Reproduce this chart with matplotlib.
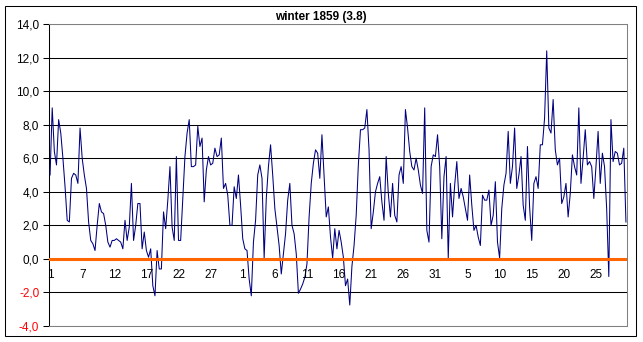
import matplotlib
matplotlib.use('Agg')
import matplotlib.pyplot as plt
import numpy as np

plt.rcParams['font.family'] = ['Liberation Sans', 'DejaVu Sans']

# three readings a day, 1 Dec 1858 - 28 Feb 1859
temps = [
    5.0, 9.0, 6.4, 5.6, 8.3, 7.5, 6.0, 4.3, 2.3, 2.2, 4.8, 5.1, 5.0, 4.5, 7.8,
    6.0, 5.0, 4.2, 2.2, 1.1, 0.9, 0.5, 2.0, 3.3, 2.8, 2.7, 2.0, 1.0, 0.7, 1.1,
    1.1, 1.2, 1.1, 1.0, 0.6, 2.3, 1.1, 1.9, 4.5, 1.1, 2.0, 3.3, 3.3, 0.6, 1.6,
    0.5, 0.1, 0.6, -1.6, -2.2, 0.5, -0.6, -0.6, 2.8, 1.8, 3.5, 5.5, 1.9, 1.1, 6.1,
    1.1, 1.1, 3.6, 6.1, 7.5, 8.3, 5.5, 5.5, 5.6, 7.9, 6.7, 7.2, 3.4, 5.3, 6.1,
    5.6, 5.7, 6.6, 6.1, 6.2, 7.2, 4.2, 4.5, 3.8, 2.0, 2.0, 4.3, 3.6, 5.0, 3.2,
    1.2, 0.6, 0.5, -1.2, -2.2, 1.0, 2.3, 5.0, 5.6, 4.8, 0.05, 3.6, 5.5, 6.8, 5.0,
    3.0, 1.9, 0.8, -0.9, 0.3, 1.5, 3.5, 4.5, 2.0, 1.5, 0.3, -2.05, -1.8, -1.5, -1.1,
    -0.3, 2.5, 4.5, 5.7, 6.5, 6.3, 4.8, 7.4, 5.0, 2.5, 3.1, 1.3, 0.05, 1.8, 0.6,
    1.7, 1.0, 0.1, -1.6, -1.2, -2.75, -0.45, 0.8, 2.6, 5.6, 7.7, 7.7, 7.8, 8.9, 6.5,
    1.8, 2.8, 4.0, 4.5, 4.9, 3.4, 2.3, 6.1, 3.9, 2.5, 4.5, 2.6, 2.2, 5.0, 5.5,
    4.5, 8.9, 7.8, 6.4, 5.5, 5.3, 6.0, 5.3, 4.4, 3.9, 9.0, 1.7, 1.0, 5.5, 6.2,
    6.1, 7.4, 5.5, 1.2, 4.9, 6.1, 0.05, 4.5, 2.5, 4.4, 5.8, 3.6, 4.2, 3.7, 3.0,
    2.3, 5.0, 3.2, 1.7, 2.0, 1.3, 0.8, 3.8, 3.5, 3.5, 4.1, 2.0, 2.6, 4.6, 1.0,
    0.05, 3.0, 4.4, 5.1, 7.6, 4.5, 5.5, 7.8, 4.2, 5.0, 6.1, 3.2, 2.3, 6.7, 3.1,
    1.1, 4.5, 4.9, 4.2, 6.8, 6.8, 8.4, 12.4, 7.8, 7.5, 9.5, 6.5, 5.6, 6.0, 3.3,
    3.7, 4.5, 2.5, 3.9, 6.2, 5.5, 5.0, 9.0, 4.5, 6.0, 7.7, 5.6, 5.8, 5.5, 3.6,
    5.5, 7.6, 4.5, 6.3, 5.5, 3.0, -1.05, 8.3, 5.8, 6.4, 6.3, 5.6, 5.7, 6.6, 2.2,
]
day_labels = ['1', '7', '12', '17', '22', '27', '1', '6', '11', '16', '21',
              '26', '31', '5', '10', '15', '20', '25']
y_ticks = [-4, -2, 0, 2, 4, 6, 8, 10, 12, 14]
title = 'winter 1859 (3.8)'

fig = plt.figure(figsize=(6.43, 3.42), dpi=100)
ax = fig.add_axes([49 / 643, 16 / 342, 578 / 643, 302 / 342])

n = len(temps)
x = np.arange(n)

# gridlines black, plot border grey
for v in y_ticks[1:-1]:
    ax.axhline(v, color='black', lw=0.75, zorder=1)
ax.axhline(14, color='#808080', lw=0.75, zorder=1)
ax.axhline(-4, color='#808080', lw=0.75, zorder=1)

ax.plot(x, temps, color='#000080', lw=0.75, zorder=3)
ax.axhline(0, color='#FF6600', lw=2.2, zorder=4)

ax.set_xlim(-0.5, n - 0.5)
ax.set_ylim(-4, 14)
ax.set_yticks(y_ticks)
ax.set_yticklabels([('%.1f' % v).replace('.', ',') for v in y_ticks])
for lab, v in zip(ax.get_yticklabels(), y_ticks):
    if v < 0:
        lab.set_color('#FF0000')
ax.tick_params(axis='y', length=4, width=0.75, labelsize=8.5, pad=3)
ax.set_xticks([])

for i, lab in enumerate(day_labels):
    ax.text(15 * i, -0.6, lab, ha='center', va='top', fontsize=8.5, zorder=5)

for s in ['top', 'right', 'bottom']:
    ax.spines[s].set_color('#808080')
    ax.spines[s].set_linewidth(0.75)
ax.spines['left'].set_color('black')
ax.spines['left'].set_linewidth(0.75)

fig.text(321 / 643, 1 - 17 / 342, title, ha='center', va='center',
         fontsize=8.5, fontweight='bold')

# outer chart frame
fig.patches.append(plt.Rectangle((5 / 643, 6 / 342), 631 / 643, 330 / 342,
                                 transform=fig.transFigure, fill=False,
                                 edgecolor='black', lw=0.75))

fig.savefig('out.png', dpi=100)
